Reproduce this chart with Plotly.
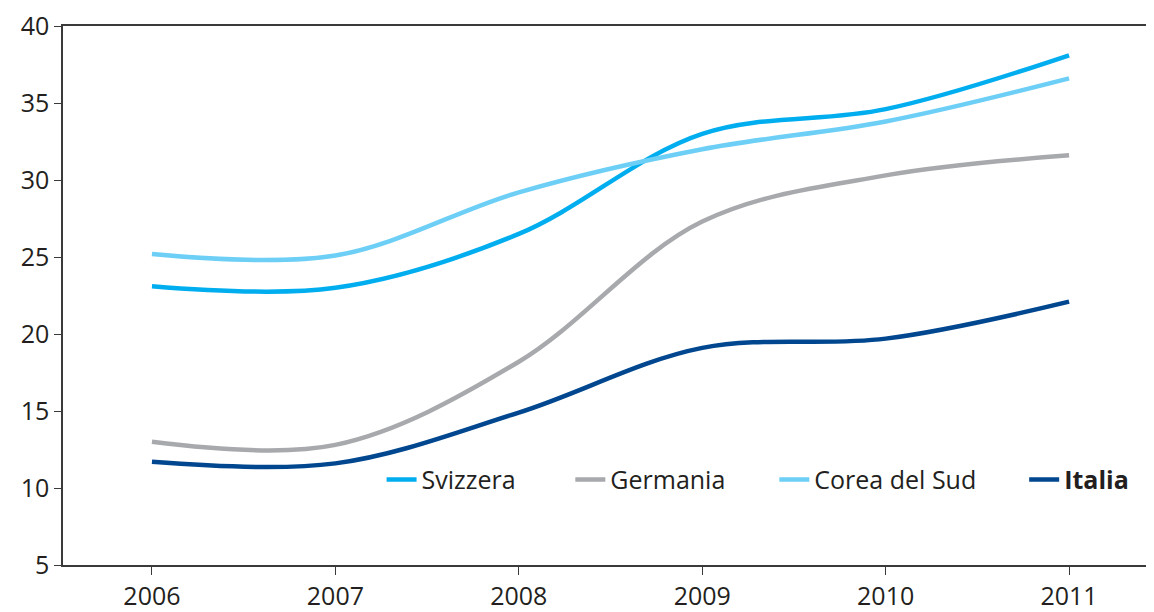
import plotly.graph_objs as go

# Years on the x axis
years = [2006, 2007, 2008, 2009, 2010, 2011]

# Series values
svizzera = [23.1, 23.0, 26.5, 33.0, 34.6, 38.1]
germania = [13.0, 12.8, 18.2, 27.3, 30.3, 31.6]
corea_del_sud = [25.2, 25.1, 29.2, 32.0, 33.8, 36.6]
italia = [11.7, 11.6, 14.9, 19.1, 19.7, 22.1]

series = [
    ('Svizzera', svizzera, '#00aeef'),
    ('Germania', germania, '#a7a9ac'),
    ('Corea del Sud', corea_del_sud, '#6dcff6'),
    ('<b>Italia</b>', italia, '#00478f'),
]

# one legend per series so each entry sits where the original has it
legend_ids = ['legend', 'legend2', 'legend3', 'legend4']
legend_x = [0.292, 0.465, 0.652, 0.881]

font_family = "'Open Sans', Lato, sans-serif"

traces = []
for (name, values, color), lid in zip(series, legend_ids):
    traces.append(go.Scatter(
        x=years,
        y=values,
        mode='lines',
        name=name,
        legend=lid,
        line=dict(color=color, width=4.5, shape='spline', smoothing=1.0),
    ))

# the page body has an 8px margin, so the figure is sized to fit the window
layout = go.Layout(
    width=1146,
    height=604,
    paper_bgcolor='white',
    plot_bgcolor='white',
    margin=dict(l=55, r=0, t=15, b=45),
    font=dict(family=font_family, size=25, color='#231f20'),
    xaxis=dict(
        range=[2005.515, 2011.463],
        tickvals=years,
        ticktext=[str(y) for y in years],
        showgrid=False,
        zeroline=False,
        showline=True,
        linecolor='#3a3a3a',
        linewidth=1.5,
        mirror=True,
        ticks='outside',
        ticklen=8,
        tickcolor='#3a3a3a',
        tickfont=dict(size=25),
        ticklabeloverflow='allow',
    ),
    yaxis=dict(
        range=[5, 40],
        tickvals=[5, 10, 15, 20, 25, 30, 35, 40],
        showgrid=False,
        zeroline=False,
        showline=True,
        linecolor='#3a3a3a',
        linewidth=1.5,
        ticks='outside',
        ticklen=7,
        tickcolor='#3a3a3a',
        tickfont=dict(size=25),
        ticklabeloverflow='allow',
    ),
    showlegend=True,
)

legend_style = dict(
    orientation='h',
    xanchor='left',
    yanchor='middle',
    y=0.158,
    bgcolor='rgba(0,0,0,0)',
    font=dict(size=25, color='#231f20'),
)
for lid, lx in zip(legend_ids, legend_x):
    layout[lid] = dict(legend_style, x=lx)

fig = go.Figure(data=traces, layout=layout)
fig.write_html("out.html")
